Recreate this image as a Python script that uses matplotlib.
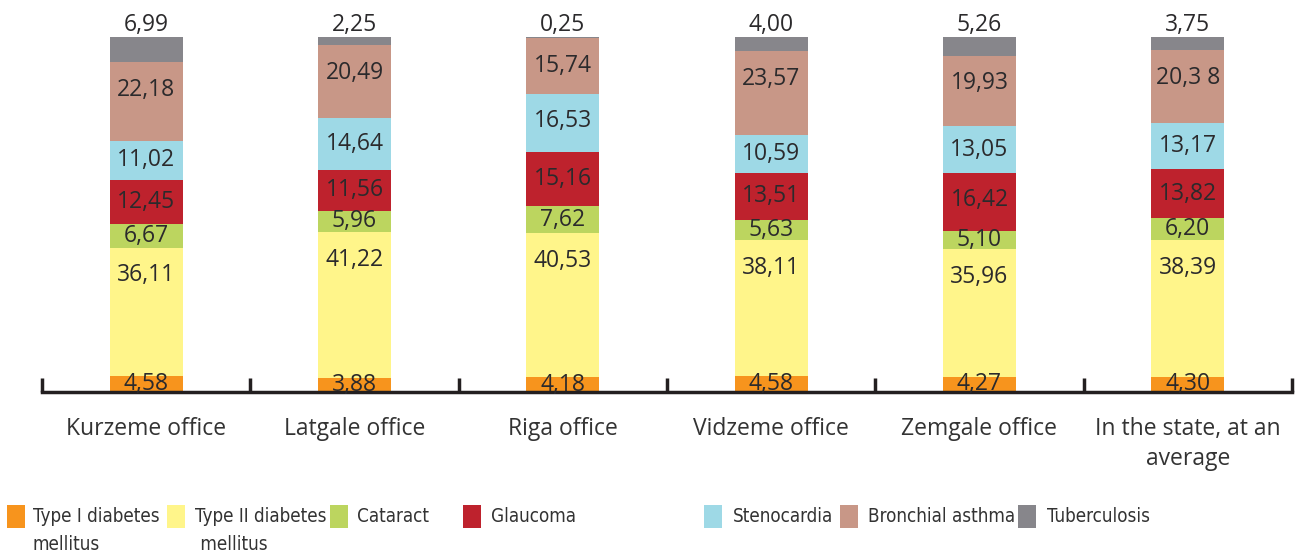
import matplotlib
matplotlib.use('Agg')
import matplotlib.pyplot as plt
from matplotlib.patches import Rectangle
import numpy as np

plt.rcParams['font.family'] = ['Open Sans', 'DejaVu Sans']

# categories and series (percent shares)
offices = ['Kurzeme office', 'Latgale office', 'Riga office', 'Vidzeme office',
           'Zemgale office', 'In the state, at an\naverage']
series = ['Type I diabetes\nmellitus', 'Type II diabetes\n mellitus', 'Cataract',
          'Glaucoma', 'Stenocardia', 'Bronchial asthma', 'Tuberculosis']
type1 = [4.58, 3.88, 4.18, 4.58, 4.27, 4.30]
type2 = [36.11, 41.22, 40.53, 38.11, 35.96, 38.39]
cataract = [6.67, 5.96, 7.62, 5.63, 5.10, 6.20]
glaucoma = [12.45, 11.56, 15.16, 13.51, 16.42, 13.82]
stenocardia = [11.02, 14.64, 16.53, 10.59, 13.05, 13.17]
asthma = [22.18, 20.49, 15.74, 23.57, 19.93, 20.38]
tuberculosis = [6.99, 2.25, 0.25, 4.00, 5.26, 3.75]
# labels as printed in the source (note the stray space in "20,3 8")
asthma_labels = ['22,18', '20,49', '15,74', '23,57', '19,93', '20,3 8']

colors = ['#F7941D', '#FFF58A', '#BCD55F', '#BE222D', '#9ED9E6', '#C89787', '#87868B']
text_color = '#2B2A2C'
fs = 16.5

values = [type1, type2, cataract, glaucoma, stenocardia, asthma, tuberculosis]

fig = plt.figure(figsize=(12.96, 5.6), dpi=100)
ax = fig.add_axes([42 / 1296, 168 / 560, 1250 / 1296, 355 / 560])

x = np.arange(len(offices))
bottom = np.zeros(len(offices))
for i, vals in enumerate(values):
    vals = np.array(vals)
    ax.bar(x, vals, 0.35, bottom=bottom, color=colors[i], linewidth=0)
    for j, v in enumerate(vals):
        top = bottom[j] + v
        if i == len(values) - 1:
            # tuberculosis value sits above the bar
            ax.annotate(f'{v:.2f}'.replace('.', ','), (x[j], top), xytext=(0, 0),
                        textcoords='offset points', ha='center', va='bottom',
                        fontsize=fs, color=text_color)
        else:
            label = asthma_labels[j] if i == 5 else f'{v:.2f}'.replace('.', ',')
            y = max(bottom[j] + v / 2, top - 7.8)
            ax.text(x[j], y, label, ha='center', va='center',
                    fontsize=fs, color=text_color)
    bottom += vals

ax.set_xlim(-0.5, len(offices) - 0.5)
ax.set_ylim(0, 100)
for s in ['top', 'right', 'left']:
    ax.spines[s].set_visible(False)
ax.spines['bottom'].set_linewidth(2.5)
ax.spines['bottom'].set_color('#231F20')
ax.set_yticks([])
ax.set_xticks(x)
ax.set_xticklabels(offices, fontsize=fs, color='#333333', linespacing=1.35)
ax.tick_params(axis='x', which='major', length=0, pad=18)
ax.set_xticks(np.arange(-0.5, len(offices)), minor=True)
ax.tick_params(axis='x', which='minor', direction='in', length=10, width=2.5,
               color='#231F20')

# legend, laid out by hand like the original
sq_x = [7, 167, 330, 463, 704, 840, 1018]
tx_x = [33, 195, 357, 491, 733, 868, 1047]
for i, name in enumerate(series):
    fig.add_artist(Rectangle((sq_x[i] / 1296, 1 - 528 / 560), 18 / 1296, 23 / 560,
                             transform=fig.transFigure, color=colors[i], lw=0))
    fig.text(tx_x[i] / 1296, 1 - 507 / 560, name, ha='left', va='top',
             family='DejaVu Sans', stretch='condensed',
             fontsize=13.5, color='#333333', linespacing=1.6)

fig.savefig('out.png', dpi=100)
